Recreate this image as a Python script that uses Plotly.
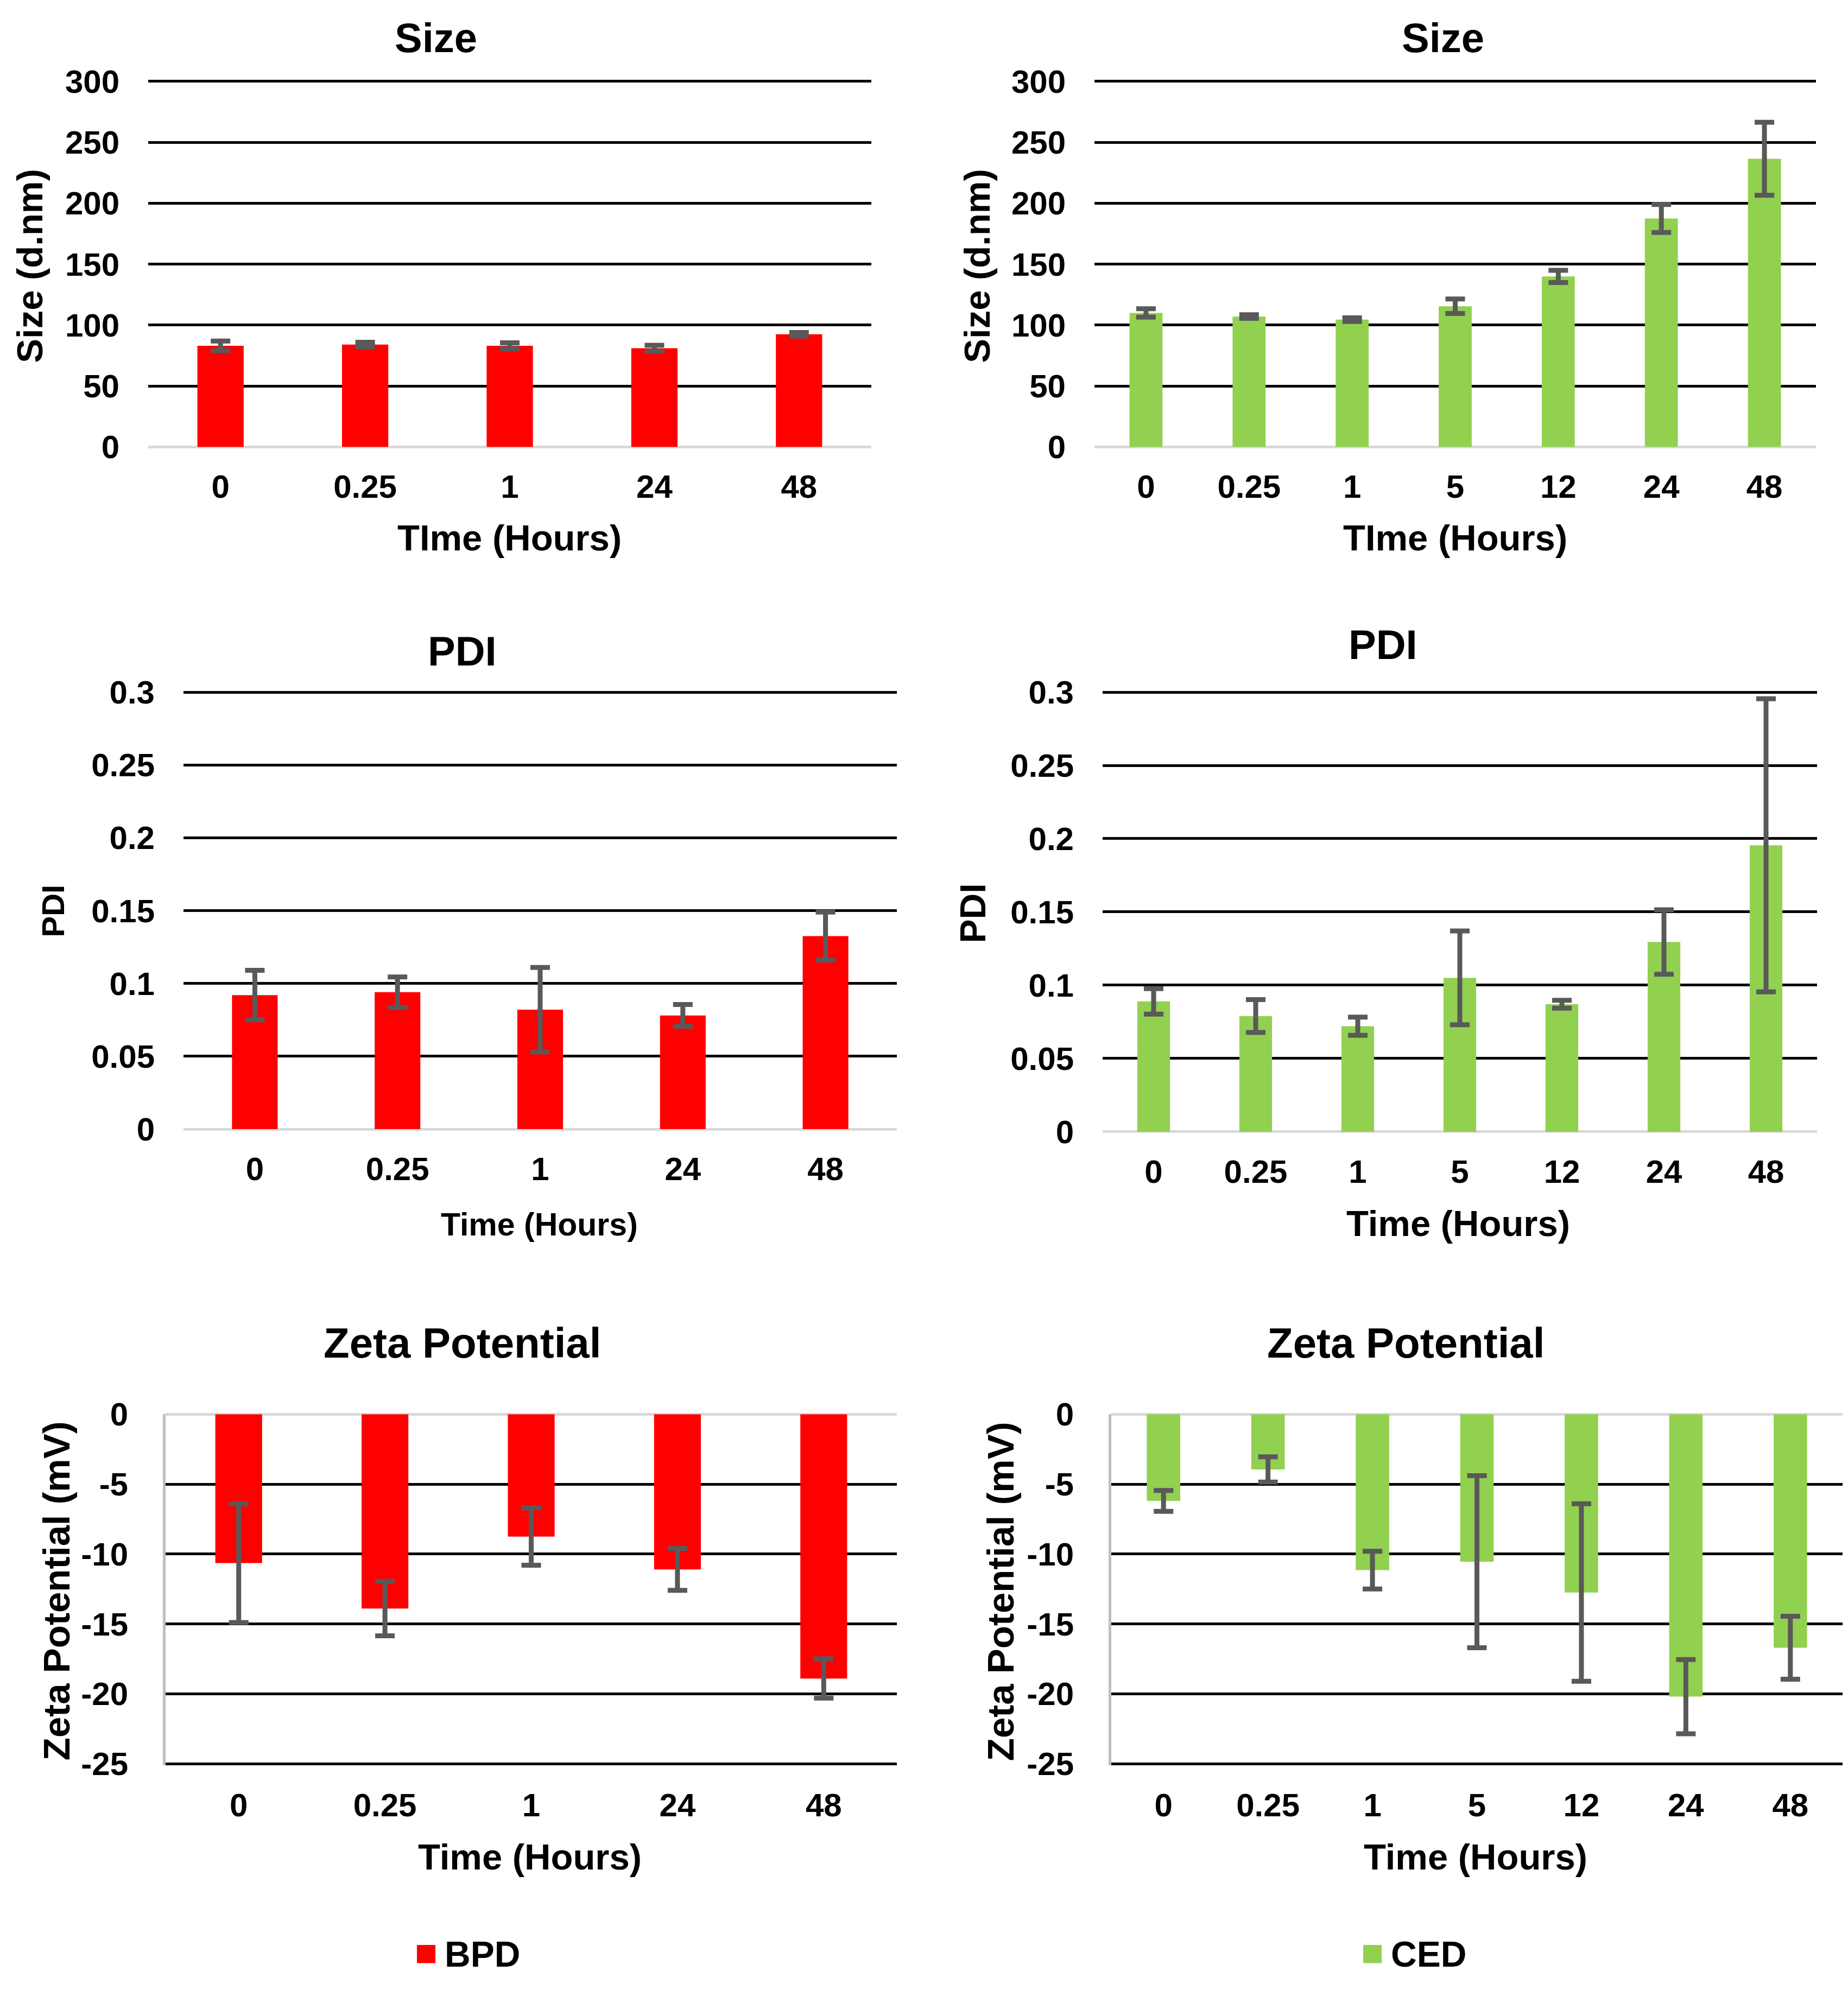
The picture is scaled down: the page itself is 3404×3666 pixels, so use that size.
import plotly.graph_objects as go
from plotly.subplots import make_subplots

W, H = 3404, 3666

# Data
bpd_times = ['0', '0.25', '1', '24', '48']
ced_times = ['0', '0.25', '1', '5', '12', '24', '48']

bpd_size = [83, 84, 83, 81, 92.5]
bpd_size_err = [4, 2, 2.5, 2.5, 1.5]
ced_size = [110, 107, 104.5, 115.5, 140, 187.5, 236.5]
ced_size_err = [3.5, 1.5, 1.5, 6, 5, 11.5, 30]

bpd_pdi = [0.092, 0.094, 0.082, 0.078, 0.1325]
bpd_pdi_err = [0.017, 0.0105, 0.029, 0.0075, 0.0165]
ced_pdi = [0.089, 0.079, 0.072, 0.105, 0.087, 0.1295, 0.1955]
ced_pdi_err = [0.0087, 0.0112, 0.0062, 0.032, 0.0027, 0.022, 0.1]

bpd_zeta = [-10.65, -13.9, -8.75, -11.1, -18.9]
bpd_zeta_err = [4.25, 1.95, 2.05, 1.5, 1.4]
ced_zeta = [-6.2, -3.95, -11.15, -10.55, -12.75, -20.2, -16.7]
ced_zeta_err = [0.75, 0.9, 1.35, 6.15, 6.35, 2.65, 2.25]

size_ticks = [0, 50, 100, 150, 200, 250, 300]
pdi_ticks = [0, 0.05, 0.1, 0.15, 0.2, 0.25, 0.3]
pdi_tick_text = ['0', '0.05', '0.1', '0.15', '0.2', '0.25', '0.3']
zeta_ticks = [0, -5, -10, -15, -20, -25]
zeta_tick_text = ['0', '-5', '-10', '-15', '-20', '-25']

RED = '#FF0000'
GREEN = '#92D050'
ERR = '#595959'
FONT = 'Liberation Sans, Arial, sans-serif'

fig = make_subplots(rows=3, cols=2)


def add_bars(x, y, err, color, row, col):
    fig.add_trace(
        go.Bar(
            x=x, y=y, width=0.32,
            marker=dict(color=color, line=dict(width=0)),
            error_y=dict(type='data', array=err, visible=True,
                         color=ERR, thickness=9, width=18),
            showlegend=False,
        ),
        row=row, col=col
    )


add_bars(bpd_times, bpd_size, bpd_size_err, RED, 1, 1)
add_bars(ced_times, ced_size, ced_size_err, GREEN, 1, 2)
add_bars(bpd_times, bpd_pdi, bpd_pdi_err, RED, 2, 1)
add_bars(ced_times, ced_pdi, ced_pdi_err, GREEN, 2, 2)
add_bars(bpd_times, bpd_zeta, bpd_zeta_err, RED, 3, 1)
add_bars(ced_times, ced_zeta, ced_zeta_err, GREEN, 3, 2)

# pixel boxes of each plot area: (left, right, top gridline, bottom gridline)
boxes = {
    1: (265, 1597, 111, 797),
    2: (2008, 3337, 111, 797),
    3: (330, 1644, 1257, 2077),
    4: (2023, 3339, 1257, 2082),
    5: (297, 1644, 2612, 3268),
    6: (2039, 3386, 2612, 3268),
}
# small range padding so the gridline at the far end of the range is drawn
PAD = 0.004

tickfont = dict(family=FONT, size=60, color='black', weight='bold')

for i, (l, r, t, b) in boxes.items():
    sx = '' if i == 1 else str(i)
    span = b - t
    if i <= 4:
        top, bottom = t - PAD * span, b      # padding above the top value
    else:
        top, bottom = t, b + PAD * span      # padding below -25
    fig.layout['xaxis' + sx].update(
        domain=[l / W, r / W], type='category', showgrid=False,
        zeroline=False, showline=False, ticks='', tickfont=tickfont,
        ticklabelstandoff=33,
    )
    fig.layout['yaxis' + sx].update(
        domain=[1 - bottom / H, 1 - top / H], showgrid=True,
        gridcolor='black', gridwidth=4.5,
        zeroline=True, zerolinecolor='#D9D9D9', zerolinewidth=5,
        ticks='', tickfont=tickfont, ticklabelstandoff=52,
    )

for sx in ['', '2']:
    fig.layout['yaxis' + sx].update(range=[0, 300 * (1 + PAD)],
                                    tickmode='array', tickvals=size_ticks)
for sx in ['3', '4']:
    fig.layout['yaxis' + sx].update(range=[0, 0.3 * (1 + PAD)],
                                    tickmode='array', tickvals=pdi_ticks,
                                    ticktext=pdi_tick_text)
for sx in ['5', '6']:
    fig.layout['yaxis' + sx].update(range=[-25 * (1 + PAD), 0],
                                    tickmode='array', tickvals=zeta_ticks,
                                    ticktext=zeta_tick_text,
                                    showline=True, linecolor='#BFBFBF',
                                    linewidth=5)


def label(text, x, y, size, angle=0):
    fig.add_annotation(
        text=text, x=x / W, y=1 - y / H, xref='paper', yref='paper',
        xanchor='center', yanchor='middle', showarrow=False, textangle=angle,
        font=dict(family=FONT, size=size, color='black', weight='bold'),
    )


# panel titles
label('Size', 795, 29, 76)
label('Size', 2650, 29, 76)
label('PDI', 843, 1180, 76)
label('PDI', 2539, 1168, 76)
label('Zeta Potential', 843, 2478, 78)
label('Zeta Potential', 2581, 2478, 78)

# x-axis titles
label('TIme (Hours)', 930, 967, 67)
label('TIme (Hours)', 2672, 967, 67)
label('Time (Hours)', 985, 2256, 59)
label('Time (Hours)', 2678, 2254, 67)
label('Time (Hours)', 968, 3442, 67)
label('Time (Hours)', 2710, 3442, 67)

# y-axis titles
label('Size (d.nm)', 47, 458, 67, -90)
label('Size (d.nm)', 1792, 458, 67, -90)
label('PDI', 90, 1668, 58, -90)
label('PDI', 1784, 1672, 66, -90)
label('Zeta Potential (mV)', 96, 2944, 69, -90)
label('Zeta Potential (mV)', 1835, 2944, 69, -90)

# legends (one per column)
for name, color, sq_left, text_left in [('BPD', RED, 760, 809),
                                        ('CED', GREEN, 2503, 2552)]:
    yc = 3625
    fig.add_shape(type='rect', xref='paper', yref='paper',
                  x0=sq_left / W, x1=(sq_left + 34) / W,
                  y0=1 - (yc + 17) / H, y1=1 - (yc - 17) / H,
                  fillcolor=color, line=dict(width=0))
    fig.add_annotation(
        text=name, x=text_left / W, y=1 - yc / H, xref='paper', yref='paper',
        xanchor='left', yanchor='middle', showarrow=False,
        font=dict(family=FONT, size=66, color='black', weight='bold'),
    )

fig.update_layout(
    width=W, height=H,
    margin=dict(l=0, r=0, t=0, b=0),
    paper_bgcolor='white', plot_bgcolor='white',
    bargap=0.68, showlegend=False,
)

fig.write_html("out.html")
